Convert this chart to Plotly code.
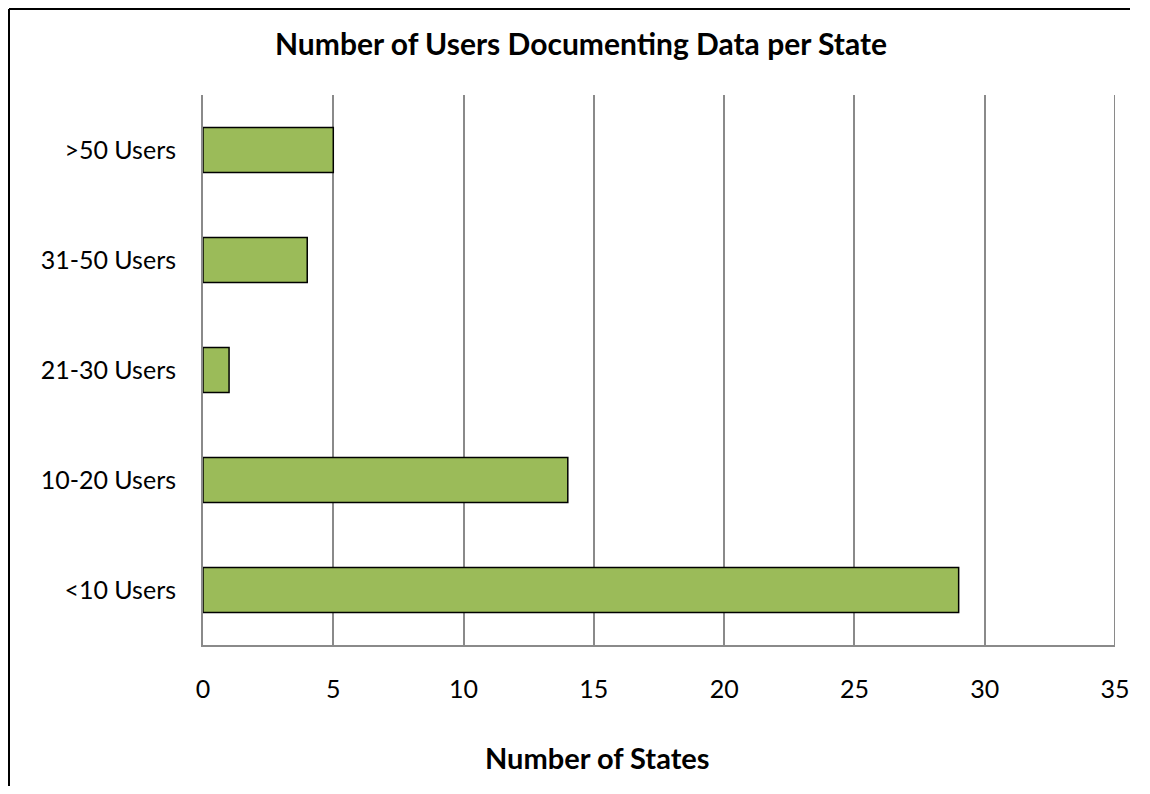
import plotly.graph_objects as go

categories = ["<10 Users", "10-20 Users", "21-30 Users", "31-50 Users", ">50 Users"]
num_states = [29, 14, 1, 4, 5]
x_ticks = [0, 5, 10, 15, 20, 25, 30, 35]

OFF = 8  # page body margin
W, H = 1150 - 2 * OFF, 794 - 2 * OFF
L, T = 203 - OFF, 95 - OFF
R = W - (1115 - OFF)
B = H - (645 - OFF)
pw, ph = W - L - R, H - T - B

def px(x):
    return (x - OFF - L) / pw

def py(y):
    return (H - B - (y - OFF)) / ph

FONT = "Lato"
GRID = "#8a8a8a"

fig = go.Figure(go.Bar(
    y=categories, x=num_states, orientation="h",
    marker=dict(color="#9BBB59", line=dict(color="#000000", width=1.5)),
))

fig.update_layout(
    width=W, height=H,
    margin=dict(l=L, r=R, t=T, b=B),
    paper_bgcolor="white", plot_bgcolor="white",
    bargap=0.59,
    showlegend=False,
    font=dict(family=FONT, size=25, color="#000000"),
    xaxis=dict(range=[0, 35], tickvals=x_ticks, showgrid=True, gridcolor=GRID, gridwidth=2,
               showline=True, linecolor=GRID, linewidth=2, zeroline=False,
               ticks="outside", ticklen=21, tickcolor="rgba(0,0,0,0)",
               tickfont=dict(size=25, family=FONT), fixedrange=True),
    yaxis=dict(categoryorder="array", categoryarray=categories, showline=True, linecolor=GRID,
               linewidth=2, showgrid=False, ticks="outside", ticklen=20, tickcolor="rgba(0,0,0,0)",
               tickfont=dict(size=25, family=FONT)),
    annotations=[
        dict(text="<b>Number of Users Documenting Data per State</b>", xref="paper", yref="paper",
             x=px(581), y=py(43), xanchor="center", yanchor="middle", showarrow=False,
             font=dict(size=30, family=FONT)),
        dict(text="<b>Number of States</b>", xref="paper", yref="paper",
             x=px(597), y=py(757), xanchor="center", yanchor="middle", showarrow=False,
             font=dict(size=29, family=FONT)),
    ],
    shapes=[
        dict(type="line", xref="x", yref="paper", x0=x_ticks[-1], x1=x_ticks[-1], y0=0, y1=1,
             line=dict(color=GRID, width=2), layer="below"),
        dict(type="line", xref="paper", yref="paper", x0=px(9), x1=px(9), y0=py(786), y1=py(9),
             line=dict(color="#000000", width=2), layer="above"),
        dict(type="line", xref="paper", yref="paper", x0=px(9), x1=px(1130), y0=py(9), y1=py(9),
             line=dict(color="#000000", width=2), layer="above"),
    ],
)

fig.write_html("out.html")
